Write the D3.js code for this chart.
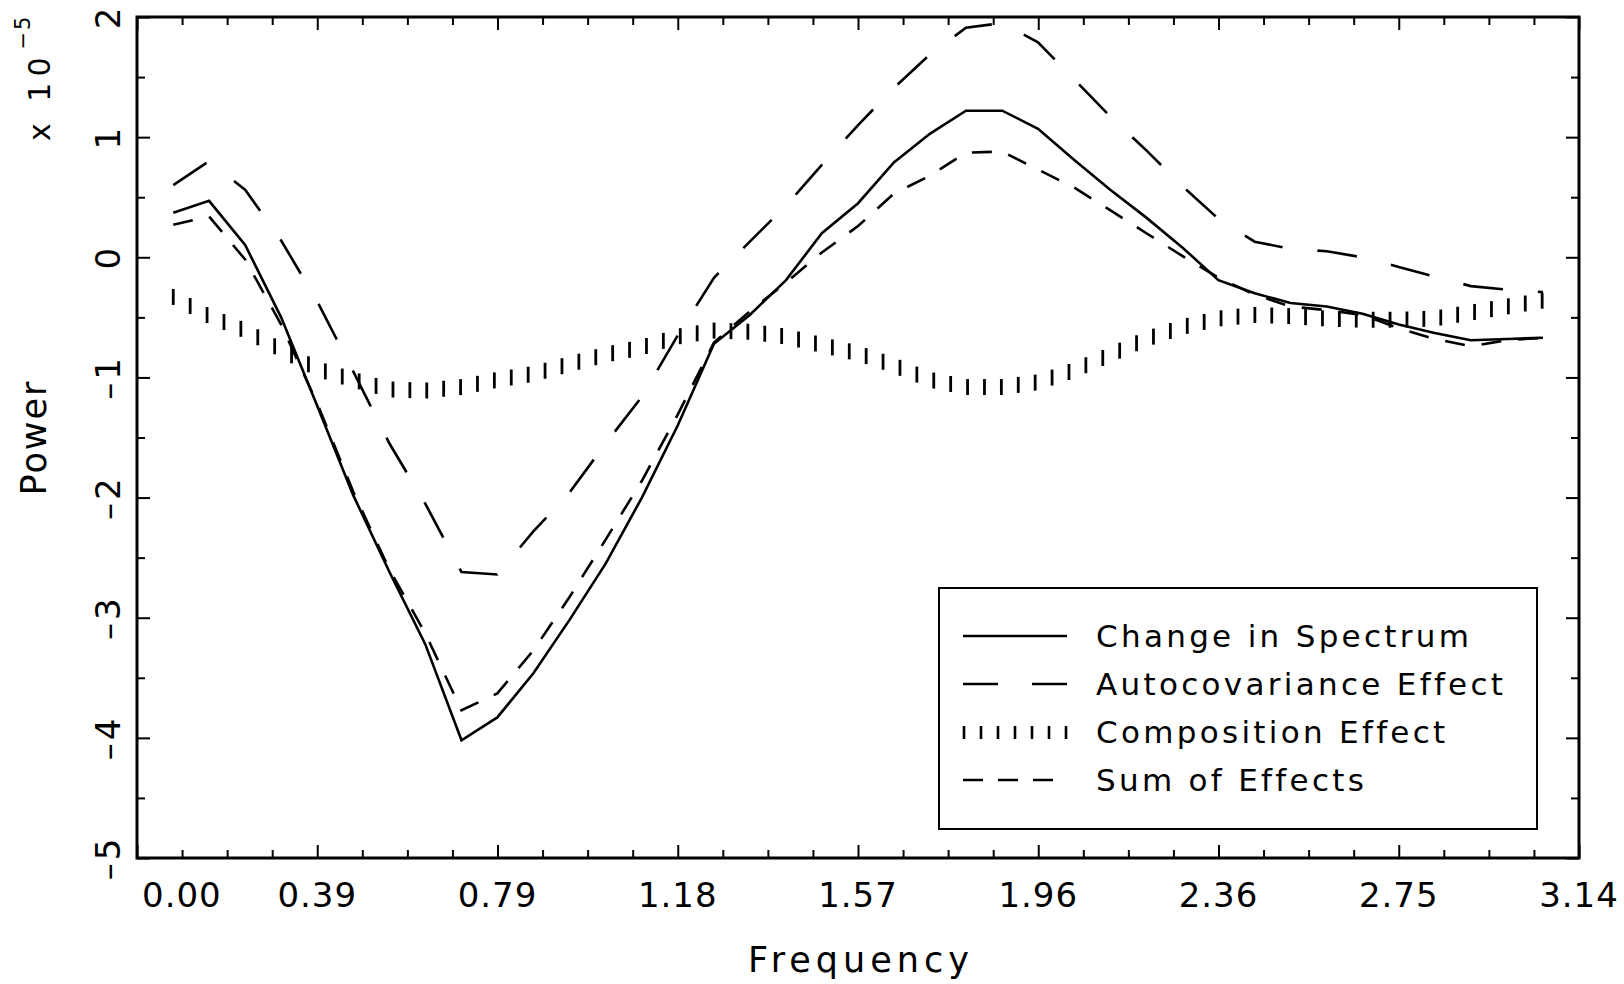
<!DOCTYPE html>
<html>
<head>
<meta charset="utf-8">
<title>Change in Spectrum - Power by Frequency</title>
<script src="https://d3js.org/d3.v7.min.js"></script>
<style>
  body { margin: 0; background: #fff; }
  svg { display: block; font-family: "DejaVu Sans", "Liberation Sans", sans-serif; }
  .frame { fill: none; stroke: #000; stroke-width: 3px; }
  .tick line { stroke: #000; stroke-width: 2px; }
  .series { fill: none; stroke: #000; stroke-width: 2.6px; }
  .comp line { stroke: #000; stroke-width: 2.8px; }
  .legend-box { fill: #fff; stroke: #000; stroke-width: 2px; }
  text { fill: #000; }
</style>
</head>
<body>
<script>

// frequencies (radians)
var freq = [0.079, 0.157, 0.236, 0.314, 0.393, 0.471, 0.550, 0.628, 0.707, 0.785,
            0.864, 0.942, 1.021, 1.100, 1.178, 1.257, 1.335, 1.414, 1.492, 1.571,
            1.649, 1.728, 1.806, 1.885, 1.963, 2.042, 2.121, 2.199, 2.278, 2.356,
            2.435, 2.513, 2.592, 2.670, 2.749, 2.827, 2.906, 2.985, 3.063];

// power, in units of 1e-5
var changeInSpectrum = [0.37, 0.47, 0.10, -0.50, -1.24, -1.98, -2.62, -3.22, -4.02, -3.83,
                        -3.46, -3.02, -2.55, -2.00, -1.40, -0.72, -0.48, -0.19, 0.20, 0.45,
                        0.79, 1.03, 1.22, 1.22, 1.07, 0.81, 0.56, 0.33, 0.08, -0.19,
                        -0.30, -0.38, -0.41, -0.47, -0.56, -0.63, -0.69, -0.68, -0.67];

var autocovEffect = [0.60, 0.80, 0.56, 0.14, -0.37, -0.95, -1.55, -2.05, -2.62, -2.64,
                     -2.28, -1.96, -1.55, -1.16, -0.65, -0.17, 0.13, 0.43, 0.77, 1.10,
                     1.41, 1.69, 1.91, 1.95, 1.79, 1.48, 1.17, 0.89, 0.59, 0.32,
                     0.13, 0.07, 0.05, 0.00, -0.08, -0.16, -0.24, -0.27, -0.29];

var compositionEffect = [-0.33, -0.49, -0.61, -0.77, -0.93, -1.02, -1.10, -1.11, -1.08, -1.02,
                         -0.97, -0.89, -0.81, -0.75, -0.66, -0.61, -0.62, -0.66, -0.73, -0.80,
                         -0.90, -1.02, -1.08, -1.08, -1.04, -0.94, -0.81, -0.68, -0.58, -0.51,
                         -0.48, -0.49, -0.51, -0.52, -0.52, -0.51, -0.46, -0.41, -0.36];

var sumOfEffects = [0.27, 0.34, -0.02, -0.56, -1.22, -1.95, -2.60, -3.13, -3.77, -3.63,
                    -3.27, -2.83, -2.35, -1.86, -1.31, -0.71, -0.45, -0.21, 0.04, 0.26,
                    0.53, 0.68, 0.87, 0.88, 0.73, 0.58, 0.39, 0.20, 0.01, -0.17,
                    -0.31, -0.41, -0.44, -0.48, -0.59, -0.68, -0.74, -0.69, -0.67];

var xTickValues = [0, 0.3927, 0.7854, 1.1781, 1.5708, 1.9635, 2.3562, 2.7489, 3.1416];
var xTickLabels = ["0.00", "0.39", "0.79", "1.18", "1.57", "1.96", "2.36", "2.75", "3.14"];
var yTickValues = [2, 1, 0, -1, -2, -3, -4, -5];
var yTickLabels = ["2", "1", "0", "\u20131", "\u20132", "\u20133", "\u20134", "\u20135"];

var legendNames = ["Change in Spectrum", "Autocovariance Effect", "Composition Effect", "Sum of Effects"];

var W = 1624, H = 984;
var plot = {left: 137, right: 1579, top: 17, bottom: 858};

var x = d3.scaleLinear().domain([0, Math.PI]).range([plot.left, plot.right]);
var y = d3.scaleLinear().domain([-5, 2]).range([plot.bottom, plot.top]);

var svg = d3.select("body").append("svg")
    .attr("width", W)
    .attr("height", H);

// minor tick positions
var xMinor = d3.range(0, 33).filter(i => i % 4 != 0).map(i => i * Math.PI / 32);
var yMinor = d3.range(-5, 2).map(v => v + 0.5);

function ticks(axis, values, size, transform) {
  svg.append("g")
    .attr("transform", transform)
    .call(axis.tickValues(values).tickSize(-size).tickFormat(""))
    .call(g => g.select(".domain").remove());
}

ticks(d3.axisBottom(x), xTickValues, 13, "translate(0," + plot.bottom + ")");
ticks(d3.axisBottom(x), xMinor, 8, "translate(0," + plot.bottom + ")");
ticks(d3.axisTop(x), xTickValues, 13, "translate(0," + plot.top + ")");
ticks(d3.axisTop(x), xMinor, 8, "translate(0," + plot.top + ")");
ticks(d3.axisLeft(y), yTickValues, 13, "translate(" + plot.left + ",0)");
ticks(d3.axisLeft(y), yMinor, 8, "translate(" + plot.left + ",0)");
ticks(d3.axisRight(y), yTickValues, 13, "translate(" + plot.right + ",0)");
ticks(d3.axisRight(y), yMinor, 8, "translate(" + plot.right + ",0)");

svg.append("rect")
    .attr("class", "frame")
    .attr("x", plot.left)
    .attr("y", plot.top)
    .attr("width", plot.right - plot.left)
    .attr("height", plot.bottom - plot.top);

// tick labels
svg.selectAll("text.xlab")
  .data(xTickValues)
  .enter().append("text")
    .attr("class", "xlab")
    .attr("x", (d, i) => i == 0 ? x(d) + 5 : x(d))
    .attr("y", plot.bottom + 49)
    .attr("text-anchor", (d, i) => i == 0 ? "start" : "middle")
    .style("font-size", "34px")
    .style("letter-spacing", "1px")
    .text((d, i) => xTickLabels[i]);

svg.selectAll("text.ylab")
  .data(yTickValues)
  .enter().append("text")
    .attr("class", "ylab")
    .attr("transform", d => "translate(120," + y(d) + ") rotate(-90)")
    .attr("text-anchor", "middle")
    .style("font-size", "34px")
    .style("letter-spacing", "3px")
    .text((d, i) => yTickLabels[i]);

// axis titles
svg.append("text")
    .attr("x", (plot.left + plot.right) / 2 + 3)
    .attr("y", 972)
    .attr("text-anchor", "middle")
    .style("font-size", "35px")
    .style("letter-spacing", "5px")
    .text("Frequency");

svg.append("text")
    .attr("transform", "translate(46," + (plot.top + plot.bottom) / 2 + ") rotate(-90)")
    .attr("text-anchor", "middle")
    .style("font-size", "35px")
    .style("letter-spacing", "2px")
    .text("Power");

var mult = svg.append("text")
    .attr("transform", "translate(50,141) rotate(-90)")
    .attr("text-anchor", "start")
    .style("font-size", "30px")
    .style("letter-spacing", "6px")
    .text("x 10");
mult.append("tspan")
    .attr("dx", 2)
    .attr("dy", -20)
    .style("font-size", "21px")
    .style("letter-spacing", "2px")
    .text("\u22125");

// series
var pts = (vals) => freq.map((f, i) => [f, vals[i]]);
var line = d3.line().x(d => x(d[0])).y(d => y(d[1]));

var dashes = {
  longDash: "40,35",
  shortDash: "20,17"
};

svg.append("path").attr("class", "series")
    .attr("d", line(pts(changeInSpectrum)));

svg.append("path").attr("class", "series")
    .attr("stroke-dasharray", dashes.longDash)
    .attr("d", line(pts(autocovEffect)));

svg.append("path").attr("class", "series")
    .attr("stroke-dasharray", dashes.shortDash)
    .attr("d", line(pts(sumOfEffects)));

// composition effect drawn as short vertical bars along its line
function valueAt(vals, f) {
  var i = Math.min(Math.max(d3.bisectRight(freq, f), 1), freq.length - 1);
  var t = (f - freq[i - 1]) / (freq[i] - freq[i - 1]);
  return vals[i - 1] + t * (vals[i] - vals[i - 1]);
}
var barStep = 16.9, barLen = 16;
var barX = d3.range(x(freq[0]), x(freq[freq.length - 1]) + 1, barStep);
svg.append("g").attr("class", "comp")
  .selectAll("line")
  .data(barX)
  .enter().append("line")
    .attr("x1", d => d).attr("x2", d => d)
    .attr("y1", d => y(valueAt(compositionEffect, x.invert(d))) - barLen / 2)
    .attr("y2", d => y(valueAt(compositionEffect, x.invert(d))) + barLen / 2);

// legend
var legend = svg.append("g").attr("transform", "translate(939,588)");
legend.append("rect").attr("class", "legend-box")
    .attr("width", 598).attr("height", 241);

var rowY = [48, 96, 144, 192];
legendNames.forEach((name, i) => {
  var row = legend.append("g").attr("transform", "translate(0," + rowY[i] + ")");
  if (i == 2) {
    row.selectAll("line").data(d3.range(0, 7)).enter().append("line")
      .attr("x1", d => 25 + d * 17).attr("x2", d => 25 + d * 17)
      .attr("y1", -6).attr("y2", 7)
      .attr("stroke", "#000").attr("stroke-width", 2.6);
  } else {
    row.append("line")
      .attr("x1", 24).attr("x2", 128)
      .attr("stroke", "#000").attr("stroke-width", 2.6)
      .attr("stroke-dasharray", i == 1 ? "35,34" : i == 3 ? "20,15" : null);
  }
  row.append("text")
    .attr("x", 157)
    .attr("dy", "0.36em")
    .style("font-size", "31px")
    .style("letter-spacing", "3.3px")
    .text(name);
});

</script>
</body>
</html>
